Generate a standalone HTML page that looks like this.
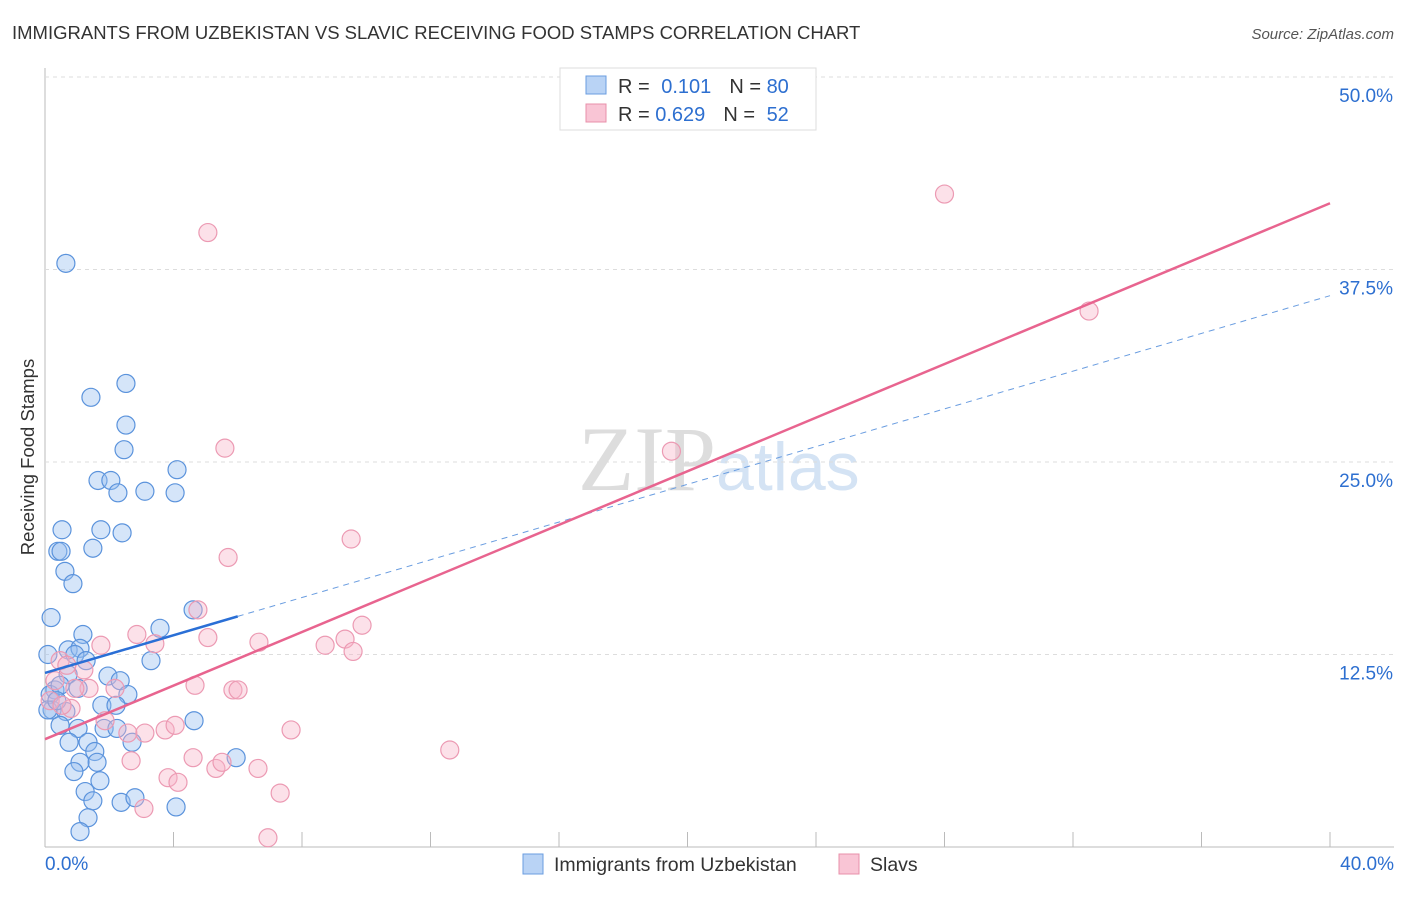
<!DOCTYPE html>
<html><head><meta charset="utf-8"><style>
body{margin:0;background:#fff;font-family:"Liberation Sans",sans-serif}
</style></head><body>
<svg id="c" width="1406" height="892" xmlns="http://www.w3.org/2000/svg">
<text x="12" y="39" font-size="18.5" fill="#333">IMMIGRANTS FROM UZBEKISTAN VS SLAVIC RECEIVING FOOD STAMPS CORRELATION CHART</text>
<text x="1394" y="39" font-size="15" fill="#555" font-style="italic" text-anchor="end">Source: ZipAtlas.com</text>
<text x="716" y="490" font-size="92" fill="#ddd" text-anchor="end" font-family="Liberation Serif,serif">ZIP</text>
<text x="716" y="490" font-size="68" fill="#d4e3f4">atlas</text>
<text transform="translate(34,457) rotate(-90)" font-size="18.5" fill="#333" text-anchor="middle">Receiving Food Stamps</text>
<g id="grid"></g><g id="pts"></g><g id="lines"></g>
<g>
<rect x="560" y="68" width="256" height="62" fill="#fff" stroke="#ddd"/>
<rect x="586" y="76" width="20" height="18" fill="#b9d3f5" stroke="#6a9de0"/>
<rect x="586" y="104" width="20" height="18" fill="#f9c5d5" stroke="#e890aa"/>
<text x="618" y="93" font-size="20" fill="#333">R = <tspan fill="#2d6fd0" dx="6">0.101</tspan><tspan dx="18">N = </tspan><tspan fill="#2d6fd0">80</tspan></text>
<text x="618" y="121" font-size="20" fill="#333">R = <tspan fill="#2d6fd0">0.629</tspan><tspan dx="18">N = </tspan><tspan fill="#2d6fd0" dx="6">52</tspan></text>
</g>
<g>
<rect x="523" y="854" width="20" height="20" fill="#b9d3f5" stroke="#6a9de0"/>
<text x="554" y="871" font-size="19.5" fill="#333">Immigrants from Uzbekistan</text>
<rect x="839" y="854" width="20" height="20" fill="#f9c5d5" stroke="#e890aa"/>
<text x="870" y="871" font-size="19.5" fill="#333">Slavs</text>
</g>
</svg>
<script>
const xTicks=[0,4,8,12,16,20,24,28,32,36,40];
const yTicks=[12.5,25,37.5,50];
const yTickLabels=["12.5%","25.0%","37.5%","50.0%"];
const xEndLabels=["0.0%","40.0%"];
const blueX=[0.65,1.43,2.52,2.52,2.46,1.65,2.05,2.27,3.11,4.11,4.05,0.53,1.74,2.40,0.40,0.50,1.49,0.62,0.87,0.19,4.61,3.58,1.18,3.30,0.72,1.09,0.93,1.28,0.09,1.96,2.34,2.58,0.72,0.31,0.16,0.47,1.03,0.22,0.65,1.77,2.21,4.64,0.47,1.03,1.84,2.24,0.75,1.34,2.71,1.55,1.62,1.09,0.90,1.71,5.95,1.25,1.49,2.37,2.80,4.08,1.34,1.09,0.09,0.37];
const blueY=[37.9,29.2,30.1,27.4,25.8,23.8,23.8,23.0,23.1,24.5,23.0,20.6,20.6,20.4,19.2,19.2,19.4,17.9,17.1,14.9,15.4,14.2,13.8,12.1,12.8,12.9,12.5,12.1,12.5,11.1,10.8,9.9,11.2,10.2,9.9,10.5,10.3,8.9,8.8,9.2,9.2,8.2,7.9,7.7,7.7,7.7,6.8,6.8,6.8,6.2,5.5,5.5,4.9,4.3,5.8,3.6,3.0,2.9,3.2,2.6,1.9,1.0,8.9,9.5];
const pinkX=[28.0,32.5,5.07,5.60,19.5,9.53,5.70,4.76,9.87,2.86,3.42,5.07,6.66,8.72,9.34,9.59,1.74,0.47,1.21,0.68,4.67,5.85,6.01,1.37,2.18,0.93,0.31,0.81,1.87,2.58,3.11,3.74,4.05,7.66,12.6,2.68,4.61,5.32,5.51,6.63,3.83,4.14,7.32,3.08,6.94,0.16,0.53];
const pinkY=[42.4,34.8,39.9,25.9,25.7,20.0,18.8,15.4,14.4,13.8,13.2,13.6,13.3,13.1,13.5,12.7,13.1,12.1,11.5,11.8,10.5,10.2,10.2,10.3,10.3,10.3,10.8,9.0,8.2,7.4,7.4,7.6,7.9,7.6,6.3,5.6,5.8,5.1,5.5,5.1,4.5,4.2,3.5,2.5,0.6,9.5,9.2];
const blueTrend=[11.3,35.8];
const pinkTrend=[7.0,41.8];
const X=v=>45+v/40*1285, Y=v=>847-v/50*770;
const NS="http://www.w3.org/2000/svg";
function mk(t,a,p){const e=document.createElementNS(NS,t);for(const k in a)e.setAttribute(k,a[k]);p.appendChild(e);return e;}
const grid=document.getElementById('grid');
const ax=mk('line',{x1:45,y1:68,x2:45,y2:847,stroke:'#bbb'},grid);


const bx=mk('line',{x1:45,y1:847,x2:1394,y2:847,stroke:'#bbb'},grid);


yTicks.forEach((t,i)=>{
 const l=mk('line',{x1:45,y1:Y(t),x2:1394,y2:Y(t),stroke:'#ddd','stroke-dasharray':'4,4'},grid);
 
 
 const tx=mk('text',{x:1393,y:Y(t)+25,'font-size':19,fill:'#2d6fd0','text-anchor':'end'},grid);
 tx.textContent=yTickLabels[i];
 
 
});
xTicks.forEach(t=>{
 const l=mk('line',{x1:X(t),y1:832,x2:X(t),y2:847,stroke:'#bbb'},grid);
 
 
});
[[0,'start',45],[40,'end',1394]].forEach((d,i)=>{
 const tx=mk('text',{x:d[2],y:870,'font-size':19,fill:'#2d6fd0','text-anchor':d[1]},grid);
 tx.textContent=xEndLabels[i];
 
 
});
const pts=document.getElementById('pts');
blueX.forEach((x,i)=>{
 const c=mk('circle',{cx:X(x),cy:Y(blueY[i]),r:9,fill:'rgba(150,190,240,0.4)',stroke:'#5b93dc','stroke-width':1.2},pts);
 
 
});
pinkX.forEach((x,i)=>{
 const c=mk('circle',{cx:X(x),cy:Y(pinkY[i]),r:9,fill:'rgba(248,180,200,0.4)',stroke:'#ec9ab3','stroke-width':1.2},pts);
 
 
});
const lines=document.getElementById('lines');
const bf=x=>blueTrend[0]+(blueTrend[1]-blueTrend[0])*x/40;
const pf=x=>pinkTrend[0]+(pinkTrend[1]-pinkTrend[0])*x/40;
const b1=mk('line',{x1:X(0),y1:Y(bf(0)),x2:X(6),y2:Y(bf(6)),stroke:'#2a6fd6','stroke-width':2.5},lines);


const b2=mk('line',{x1:X(6),y1:Y(bf(6)),x2:X(40),y2:Y(bf(40)),stroke:'#6a9de0','stroke-width':1,'stroke-dasharray':'6,5'},lines);


const p1=mk('line',{x1:X(0),y1:Y(pf(0)),x2:X(40),y2:Y(pf(40)),stroke:'#e8648f','stroke-width':2.5},lines);


</script>
</body></html>
